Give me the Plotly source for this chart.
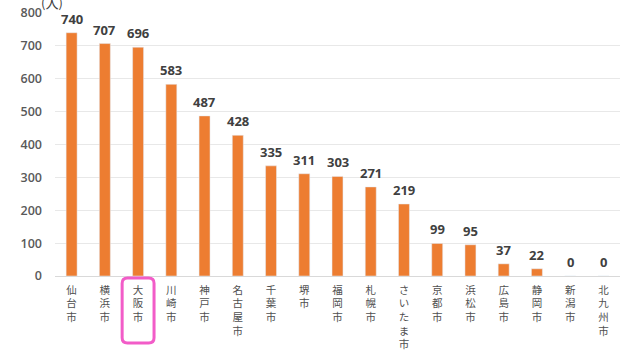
import plotly.graph_objects as go

cities = ["仙台市", "横浜市", "大阪市", "川崎市", "神戸市", "名古屋市", "千葉市", "堺市", "福岡市",
          "札幌市", "さいたま市", "京都市", "浜松市", "広島市", "静岡市", "新潟市", "北九州市"]
counts = [740, 707, 696, 583, 487, 428, 335, 311, 303, 271, 219, 99, 95, 37, 22, 0, 0]
highlight = "大阪市"

# vertical labels: one character per line
tick_text = ["<br>".join(list(c)) for c in cities]

fig = go.Figure()
fig.add_trace(go.Bar(
    x=cities,
    y=counts,
    marker_color="#ED7D31",
    width=0.33,
    hoverinfo="x+y",
))

# value labels above bars
for c, v in zip(cities, counts):
    fig.add_annotation(x=c, y=v, text=str(v), showarrow=False,
                       yanchor="bottom", yshift=3,
                       font=dict(size=13, color="#404040", family="Open Sans", weight=700))

# rounded pink box around the highlighted label
hi = cities.index(highlight)
x0, x1 = hi - 0.48, hi + 0.48
y0, y1 = -0.255, -0.008
rx, ry = 0.16, 0.02
path = (f"M {x0 + rx} {y1} L {x1 - rx} {y1} Q {x1} {y1} {x1} {y1 - ry} "
        f"L {x1} {y0 + ry} Q {x1} {y0} {x1 - rx} {y0} L {x0 + rx} {y0} "
        f"Q {x0} {y0} {x0} {y0 + ry} L {x0} {y1 - ry} Q {x0} {y1} {x0 + rx} {y1} Z")
fig.add_shape(type="path", path=path, xref="x", yref="paper",
              line=dict(color="#F25CC8", width=3), layer="above")

# unit label, cut off at the top like in the original
fig.add_annotation(text="(人)", xref="paper", yref="paper", x=-0.028, y=0.998,
                   xanchor="left", yanchor="bottom", showarrow=False,
                   font=dict(size=13, color="#404040", family="Noto Sans CJK JP"))

fig.update_layout(
    width=623, height=354,
    margin=dict(l=55, r=3, t=13, b=78),
    paper_bgcolor="white", plot_bgcolor="white",
    showlegend=False,
    font=dict(family="Noto Sans CJK JP", color="#595959"),
)
fig.update_xaxes(range=[-0.5, len(cities) - 0.5],
                 tickvals=cities, ticktext=tick_text, tickangle=0,
                 tickfont=dict(size=10.5, color="#505050"),
                 showline=True, linecolor="#D9D9D9", ticks="", automargin=False,
                 ticklabelstandoff=4)
fig.update_yaxes(range=[0, 800], dtick=100, showgrid=True, gridcolor="#E8E8E8",
                 tickfont=dict(size=12.5, color="#595959", family="Open Sans", weight=600),
                 zeroline=False, ticks="", ticklabelstandoff=12, automargin=False)

fig.write_html("out.html", config={"displayModeBar": False},
               post_script="document.body.style.margin='0';")
